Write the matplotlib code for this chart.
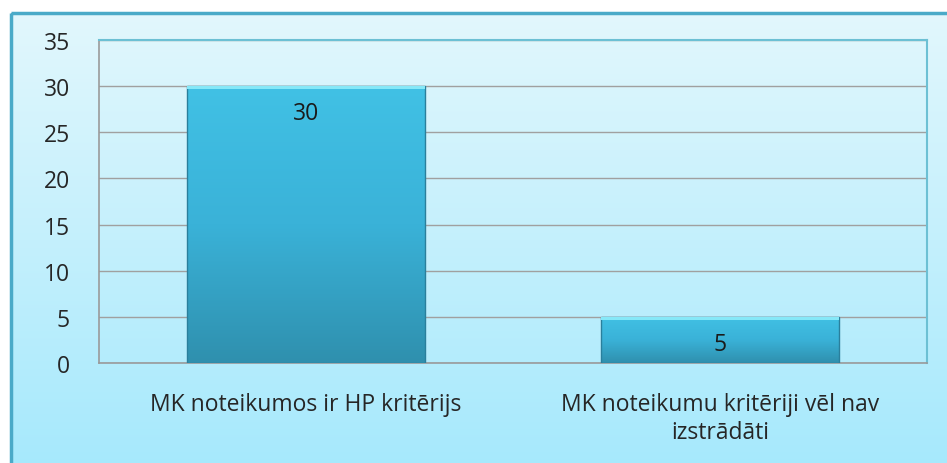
import numpy as np
import matplotlib
matplotlib.use("Agg")
import matplotlib.pyplot as plt
from matplotlib.colors import LinearSegmentedColormap
from matplotlib.patches import Rectangle

categories = ["MK noteikumos ir HP kritērijs", "MK noteikumu kritēriji vēl nav\nizstrādāti"]
values = [30, 5]
yticks = [0, 5, 10, 15, 20, 25, 30, 35]

plt.rcParams['font.family'] = ['Open Sans', 'DejaVu Sans']

W, H = 947, 464
fig = plt.figure(figsize=(W / 100, H / 100), dpi=100)
fig.patch.set_facecolor('white')

# Background frame with gradient
bg = fig.add_axes([0, 0, 1, 1], zorder=0)
bg.set_xlim(0, W)
bg.set_ylim(H, 0)
bg.axis('off')
grad = np.linspace(0, 1, 256).reshape(-1, 1)
bg_cmap = LinearSegmentedColormap.from_list('bg', ['#e2f7fd', '#a6e9fc'])
bg.imshow(grad, cmap=bg_cmap, extent=[11, W + 5, H + 5, 14], aspect='auto', zorder=0)
bg.add_patch(Rectangle((11, 14), W, H, fill=False, edgecolor='#4aaac8', linewidth=2.5, zorder=1))

# Plot area
left, right, top, bottom = 99, 927, 41, 364
ax = fig.add_axes([left / W, 1 - bottom / H, (right - left) / W, (bottom - top) / H], zorder=1)
ax.patch.set_alpha(0)

x = np.arange(len(categories))
bars = ax.bar(x, values, width=0.575, color='none', edgecolor='none', zorder=3)
ax.set_xlim(-0.5, len(categories) - 0.5)
ax.set_ylim(0, 35)

# gradient: index 0 = bar top, 1 = bar bottom
bar_cmap = LinearSegmentedColormap.from_list('bar', ['#41c1e5', '#3ab2d8', '#2f90ae'])
for b, v in zip(bars, values):
    x0, y0 = b.get_x(), b.get_y()
    w, h = b.get_width(), b.get_height()
    im = ax.imshow(np.linspace(0, 1, 256).reshape(-1, 1), cmap=bar_cmap, origin='upper',
                   extent=[x0, x0 + w, y0, y0 + h], aspect='auto', zorder=3)
    clip = Rectangle((x0, y0), w, h, transform=ax.transData, facecolor='none', edgecolor='none')
    ax.add_patch(clip)
    im.set_clip_path(clip)
    ax.add_patch(Rectangle((x0, y0), w, h, fill=False, edgecolor='#2a7f9c', linewidth=1.0, zorder=4))
    ax.add_patch(Rectangle((x0, y0 + h - 0.3), w, 0.3, facecolor='#86e8f8', edgecolor='none', zorder=4))
    ax.text(b.get_x() + w / 2, v - 2.9, f"{v}", ha='center', va='center', fontsize=16.5, color='#1a1a1a', zorder=5)

ax.set_aspect('auto')
ax.set_xlim(-0.5, len(categories) - 0.5)
ax.set_ylim(0, 35)
ax.set_yticks(yticks)
ax.set_yticklabels([str(t) for t in yticks], fontsize=16.5, color='#262626')
ax.set_xticks(x)
ax.set_xticklabels(categories, fontsize=16.5, color='#262626', linespacing=1.2)
ax.tick_params(axis='y', length=0, pad=21)
ax.tick_params(axis='x', length=0, pad=21)
ax.yaxis.grid(True, color='#a0a0a0', linewidth=1.0, zorder=1)
ax.set_axisbelow(True)
for s in ['left', 'bottom']:
    ax.spines[s].set_color('#9a9a9a')
    ax.spines[s].set_linewidth(1.2)
for s in ['top', 'right']:
    ax.spines[s].set_color('#6cc0d4')
    ax.spines[s].set_linewidth(1.5)

fig.savefig('out.png', dpi=100)
